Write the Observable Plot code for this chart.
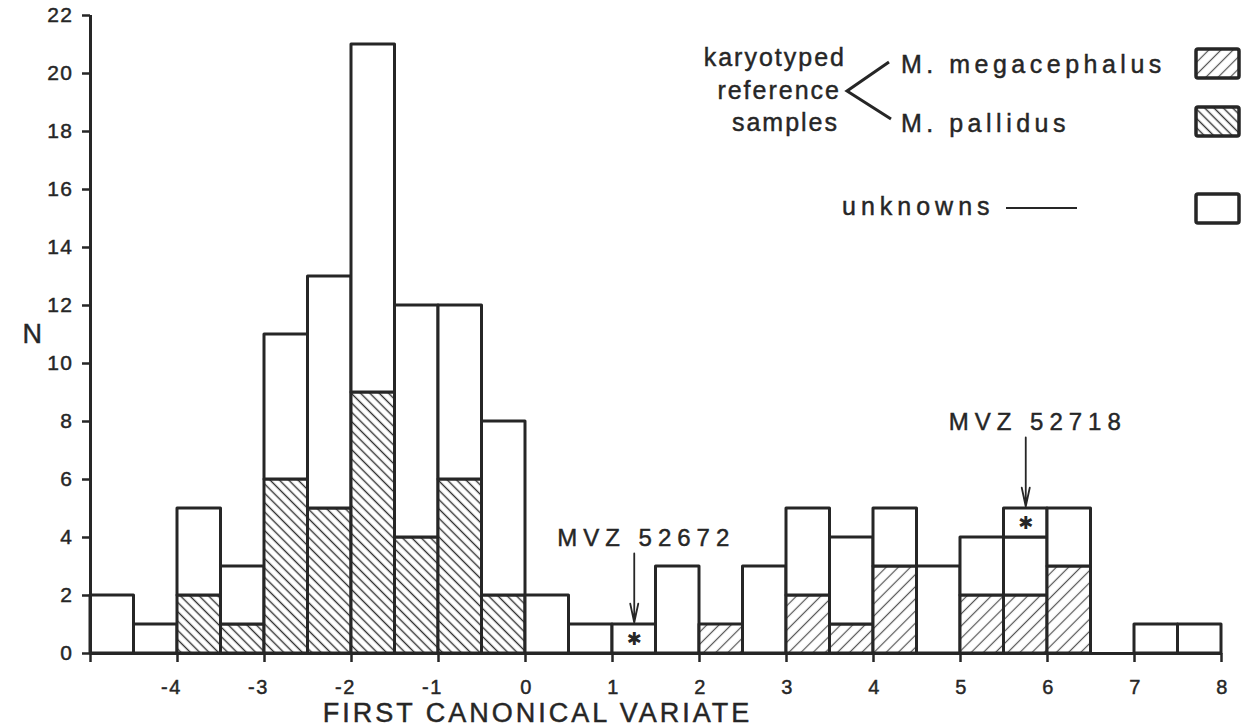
<!DOCTYPE html>
<html><head><meta charset="utf-8">
<script src="https://cdn.jsdelivr.net/npm/d3@7"></script>
<script src="https://cdn.jsdelivr.net/npm/@observablehq/plot@0.6"></script>
<style>
html,body{margin:0;padding:0;background:#fff;}
#chart{position:relative;width:1242px;height:727px;}
</style></head><body><div id="chart"></div>
<script>
// ---- data ----
const binStarts = [-5,-4.5,-4,-3.5,-3,-2.5,-2,-1.5,-1,-0.5,0,0.5,1,1.5,2,2.5,3,3.5,4,4.5,5,5.5,6,6.5,7,7.5];
const binWidth = 0.5;
const pallidusCounts     = [0,0,2,1,6,5,9,4,6,2,0,0,0,0,0,0,0,0,0,0,0,0,0,0,0,0];
const megacephalusCounts = [0,0,0,0,0,0,0,0,0,0,0,0,0,0,1,0,2,1,3,0,2,2,3,0,0,0];
const unknownCounts      = [2,1,3,2,5,8,12,8,6,6,2,1,0,3,0,3,3,3,2,3,2,2,2,0,1,1];
const markedCounts       = [0,0,0,0,0,0,0,0,0,0,0,0,1,0,0,0,0,0,0,0,0,1,0,0,0,0];
const markedNames = ["MVZ 52672", "MVZ 52718"];
const yTicks = [0,2,4,6,8,10,12,14,16,18,20,22];
const xTicks = [-5,-4,-3,-2,-1,0,1,2,3,4,5,6,7,8];
const xLabel = "FIRST CANONICAL VARIATE";
const yLabel = "N";

// ---- build stacked segments ----
const categories = [
  ["pallidus", pallidusCounts],
  ["megacephalus", megacephalusCounts],
  ["unknown", unknownCounts],
  ["marked", markedCounts]
];
const segments = [];
let mi = 0;
binStarts.forEach((x0, i) => {
  let y0 = 0;
  for (const [cat, arr] of categories) {
    const c = arr[i];
    if (c > 0) {
      const seg = {x1: x0, x2: x0 + binWidth, y1: y0, y2: y0 + c, cat};
      if (cat === "marked") seg.name = markedNames[mi++];
      segments.push(seg);
      y0 += c;
    }
  }
});
const markedSegs = segments.filter(d => d.cat === "marked");
const fills = {pallidus: "url(#hatchPal)", megacephalus: "url(#hatchMeg)", unknown: "#fff", marked: "#fff"};
const ink = "#262626";
const font = "'Liberation Sans', Arial, Helvetica, sans-serif";
const mid = d => (d.x1 + d.x2) / 2;
const arrowLen = 2.45;

const svg = Plot.plot({
  width: 1242, height: 727,
  marginLeft: 90, marginRight: 21, marginTop: 15, marginBottom: 74,
  x: {domain: [-5, 8]},
  y: {domain: [0, 22]},
  style: {fontFamily: font, color: ink, background: "#fff", overflow: "visible"},
  marks: [
    Plot.rect(segments, {x1: "x1", x2: "x2", y1: "y1", y2: "y2", fill: d => fills[d.cat], stroke: ink, strokeWidth: 3, strokeLinejoin: "round"}),
    Plot.ruleY([0], {stroke: ink, strokeWidth: 3}),
    Plot.ruleX([-5], {y1: 0, y2: 22, stroke: ink, strokeWidth: 3}),
    Plot.axisY({ticks: yTicks, tickSize: 8, tickPadding: 9, fontSize: 21, strokeWidth: 2.5, label: null, tickFormat: d => String(d)}),
    Plot.axisX({ticks: xTicks, tickSize: 9, tickFormat: () => "", label: null, strokeWidth: 2.5}),
    Plot.axisX({ticks: xTicks.filter(d => d >= 0), tickSize: 0, tickPadding: 26, fontSize: 20, label: null, dx: 1, tickFormat: d => String(d)}),
    Plot.axisX({ticks: xTicks.filter(d => d < 0 && d > -5), tickSize: 0, tickPadding: 26, fontSize: 20, label: null, dx: -6, tickFormat: d => String(d)}),
    Plot.text([xLabel], {x: 0, frameAnchor: "bottom", lineAnchor: "top", dy: 49, dx: 12, fontSize: 27, fill: ink}),
    Plot.text([yLabel], {frameAnchor: "left", dx: -68, fontSize: 27, fill: ink}),
    Plot.text(markedSegs, {x: mid, y: d => (d.y1 + d.y2) / 2, text: () => "✱", fontSize: 18, fontFamily: "'DejaVu Sans', sans-serif", fill: ink}),
    Plot.arrow(markedSegs, {x1: mid, x2: mid, y1: d => d.y2 + arrowLen, y2: d => d.y2, insetEnd: 2, headLength: 16, headAngle: 24, stroke: ink, strokeWidth: 1.8}),
    Plot.text(markedSegs, {x: mid, y: d => d.y2 + arrowLen, text: "name", lineAnchor: "top", dy: -24, dx: 12, fontSize: 24, fill: ink})
  ]
});

const root = d3.select(svg);
// hatch patterns
const defs = root.insert("defs", ":first-child");
const pal = defs.append("pattern").attr("id", "hatchPal").attr("patternUnits", "userSpaceOnUse")
  .attr("width", 6.6).attr("height", 6.6).attr("patternTransform", "rotate(-45)");
pal.append("rect").attr("width", 6.6).attr("height", 6.6).attr("fill", "#fff");
pal.append("line").attr("x1", 3.3).attr("x2", 3.3).attr("y1", 0).attr("y2", 6.6).attr("stroke", "#333").attr("stroke-width", 1.4);
const meg = defs.append("pattern").attr("id", "hatchMeg").attr("patternUnits", "userSpaceOnUse")
  .attr("width", 8.6).attr("height", 8.6).attr("patternTransform", "rotate(45)");
meg.append("rect").attr("width", 8.6).attr("height", 8.6).attr("fill", "#fff");
meg.append("line").attr("x1", 4.3).attr("x2", 4.3).attr("y1", 0).attr("y2", 8.6).attr("stroke", "#555").attr("stroke-width", 1.2);

// letter spacing for the lettered labels
root.selectAll("text").filter(function() { return markedNames.includes(this.textContent); }).style("letter-spacing", "6px");
root.selectAll("text").filter(function() { return this.textContent === xLabel; }).style("letter-spacing", "3px");
root.selectAll("text").filter(function() { return /^-?\d+$/.test(this.textContent); }).style("letter-spacing", "1.5px");

// legend
const lg = root.append("g").attr("font-family", font).attr("fill", ink).attr("font-size", 25);
const lt = (x, y, s, anchor, sp) => lg.append("text").attr("x", x).attr("y", y).attr("text-anchor", anchor).style("letter-spacing", sp + "px").text(s);
lt(846, 66, "karyotyped", "end", 2);
lt(841, 99, "reference", "end", 2);
lt(839, 131, "samples", "end", 2);
lt(901, 73, "M. megacephalus", "start", 4.5);
lt(901, 132, "M. pallidus", "start", 4.5);
lt(842, 215, "unknowns", "start", 5);
lg.append("polyline").attr("points", "889,62 847,91 891,119").attr("fill", "none").attr("stroke", ink).attr("stroke-width", 3);
lg.append("line").attr("x1", 1006).attr("x2", 1077).attr("y1", 208).attr("y2", 208).attr("stroke", ink).attr("stroke-width", 2);
[["url(#hatchMeg)", 49], ["url(#hatchPal)", 107], ["#fff", 194]].forEach(([f, y]) => {
  lg.append("rect").attr("x", 1196).attr("y", y).attr("width", 43).attr("height", 29).attr("rx", 2)
    .attr("fill", f).attr("stroke", ink).attr("stroke-width", 3.5);
});

// slightly heavier lettering, like the inked original
root.selectAll("text").filter(function() { return this.textContent !== "✱"; })
  .attr("stroke", ink).attr("stroke-width", 0.45).attr("paint-order", "stroke");

document.getElementById("chart").appendChild(svg);
</script></body></html>
